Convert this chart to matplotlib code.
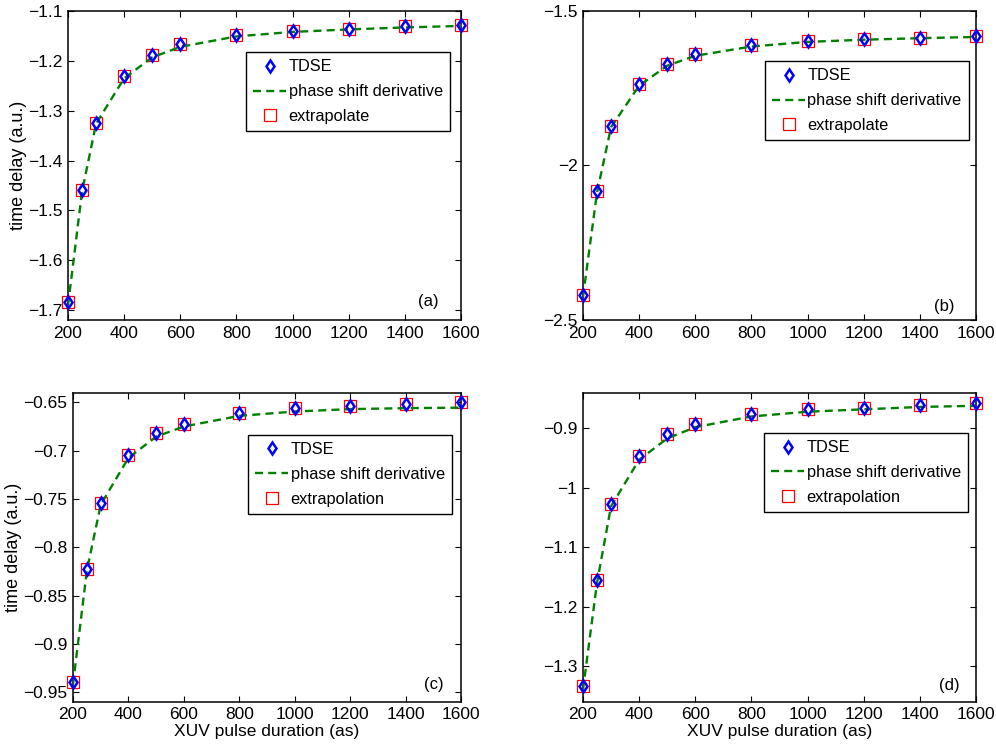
import numpy as np
import matplotlib
matplotlib.use("Agg")
import matplotlib.pyplot as plt
from matplotlib.ticker import FuncFormatter

plt.rcParams['font.family'] = ['Liberation Sans', 'DejaVu Sans']
plt.rcParams['font.size'] = 12

# pulse durations (as)
duration = [200, 250, 300, 400, 500, 600, 800, 1000, 1200, 1400, 1600]

# panel (a)
tdse_a = [-1.684, -1.459, -1.325, -1.231, -1.188, -1.166, -1.148, -1.140, -1.136, -1.131, -1.128]
deriv_a = [-1.690, -1.462, -1.326, -1.235, -1.193, -1.172, -1.151, -1.142, -1.137, -1.133, -1.130]
extra_a = [-1.684, -1.459, -1.325, -1.231, -1.188, -1.166, -1.148, -1.140, -1.136, -1.131, -1.128]

# panel (b)
tdse_b = [-2.419, -2.083, -1.873, -1.737, -1.671, -1.640, -1.611, -1.597, -1.591, -1.586, -1.581]
deriv_b = [-2.425, -2.088, -1.876, -1.742, -1.677, -1.645, -1.615, -1.600, -1.593, -1.588, -1.584]
extra_b = [-2.419, -2.083, -1.873, -1.737, -1.671, -1.640, -1.611, -1.597, -1.591, -1.586, -1.581]

# panel (c)
tdse_c = [-0.9396, -0.8226, -0.7542, -0.7049, -0.6821, -0.6725, -0.6614, -0.6560, -0.6533, -0.6520, -0.6500]
deriv_c = [-0.9420, -0.8240, -0.7560, -0.7075, -0.6855, -0.6750, -0.6640, -0.6595, -0.6570, -0.6560, -0.6555]
extra_c = [-0.9396, -0.8226, -0.7542, -0.7049, -0.6821, -0.6725, -0.6614, -0.6560, -0.6533, -0.6520, -0.6500]

# panel (d)
tdse_d = [-1.334, -1.155, -1.027, -0.947, -0.910, -0.892, -0.876, -0.868, -0.865, -0.861, -0.858]
deriv_d = [-1.340, -1.160, -1.031, -0.953, -0.917, -0.898, -0.880, -0.872, -0.868, -0.864, -0.862]
extra_d = [-1.334, -1.155, -1.027, -0.947, -0.910, -0.892, -0.876, -0.868, -0.865, -0.861, -0.858]

panels = [
    ("(a)", tdse_a, deriv_a, extra_a, "extrapolate", (-1.72, -1.1), np.arange(-1.7, -1.09, 0.1)),
    ("(b)", tdse_b, deriv_b, extra_b, "extrapolate", (-2.5, -1.5), [-2.5, -2.0, -1.5]),
    ("(c)", tdse_c, deriv_c, extra_c, "extrapolation", (-0.96, -0.64), np.arange(-0.95, -0.649, 0.05)),
    ("(d)", tdse_d, deriv_d, extra_d, "extrapolation", (-1.36, -0.84), np.arange(-1.3, -0.89, 0.1)),
]

rects = [
    [0.0683, 0.5716, 0.3946, 0.4137],
    [0.5853, 0.5716, 0.3946, 0.4137],
    [0.0733, 0.0606, 0.3896, 0.4137],
    [0.5853, 0.0606, 0.3946, 0.4137],
]
legend_anchor = [(0.972, 0.867), (0.982, 0.838), (0.977, 0.864), (0.980, 0.870)]
tag_pos = [(0.916, 0.059), (0.918, 0.043), (0.930, 0.055), (0.931, 0.053)]

fig = plt.figure(figsize=(9.96, 7.47), dpi=100)

for i, (tag, tdse, deriv, extra, extra_name, ylim, yticks) in enumerate(panels):
    ax = fig.add_axes(rects[i])
    ax.plot(duration, tdse, linestyle='none', marker='d', markersize=6,
            markerfacecolor='none', markeredgecolor='blue', markeredgewidth=1.8,
            label='TDSE', clip_on=False, zorder=4)
    ax.plot(duration, deriv, color=(0, 0.5, 0), linestyle='--', linewidth=1.7,
            dashes=(3.4, 2.2), label='phase shift derivative', zorder=3)
    ax.plot(duration, extra, linestyle='none', marker='s', markersize=8,
            markerfacecolor='none', markeredgecolor='red', markeredgewidth=0.9,
            label=extra_name, clip_on=False, zorder=2)
    ax.set_xlim(200, 1600)
    ax.set_ylim(*ylim)
    ax.set_xticks(np.arange(200, 1601, 200))
    ax.set_yticks(yticks)
    ax.yaxis.set_major_formatter(FuncFormatter(lambda v, p: ("%g" % round(v, 4)).replace("-", "\u2212")))
    ax.tick_params(direction='in', top=True, right=True, length=4, width=0.8,
                   labelsize=12.5, pad=4)
    for s in ax.spines.values():
        s.set_linewidth(1.1)
    if i in (0, 2):
        ax.set_ylabel("time delay (a.u.)", labelpad=1, fontsize=13)
    if i in (2, 3):
        ax.set_xlabel("XUV pulse duration (as)", labelpad=1, fontsize=12.5)
    leg = ax.legend(loc='upper right', bbox_to_anchor=legend_anchor[i],
                    fancybox=False, edgecolor='black', framealpha=1,
                    handlelength=2.0, handletextpad=0.15, labelspacing=0.6,
                    borderpad=0.45, fontsize=11.8, borderaxespad=0)
    leg.get_frame().set_linewidth(1.0)
    ax.text(tag_pos[i][0], tag_pos[i][1], tag, transform=ax.transAxes,
            ha='center', va='center', fontsize=12)

fig.savefig("out.png", dpi=100)
